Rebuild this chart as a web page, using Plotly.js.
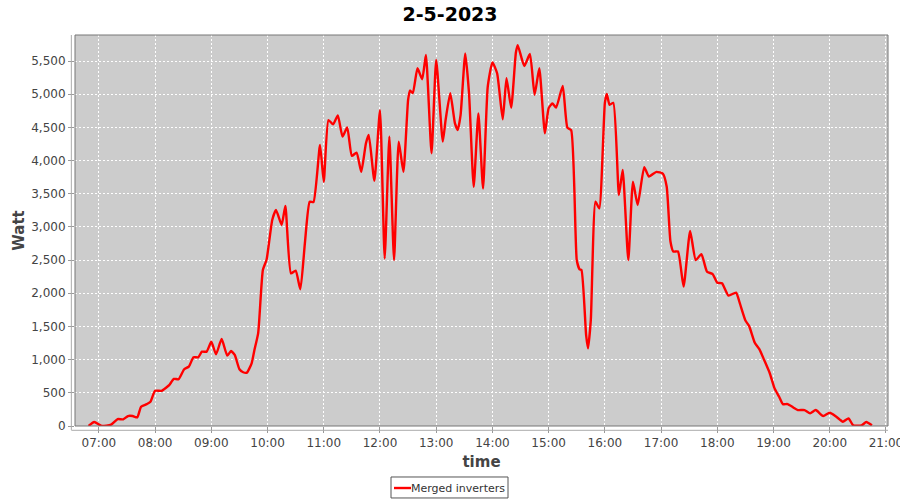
<!DOCTYPE html>
<html>
<head>
<meta charset="utf-8">
<script src="https://cdn.plot.ly/plotly-3.0.1.min.js"></script>
<style>html,body{margin:0;padding:0;background:#fff;}#chart{width:900px;height:500px;}</style>
</head>
<body>
<div id="chart"></div>
<script>
const chartTitle = "2-5-2023";
const day = "2023-05-02";
const seriesName = "Merged inverters";
const seriesColor = "#ff0000";
const times = ["06:49","06:55","07:03","07:13","07:20","07:26","07:31","07:36","07:41","07:45","07:51","07:55",
"08:00","08:07","08:12","08:15","08:20","08:25","08:31","08:36","08:41","08:46","08:50","08:55",
"09:00","09:05","09:11","09:17","09:21","09:25","09:30","09:34","09:38","09:43","09:46","09:50","09:55","09:59",
"10:05","10:09","10:15","10:19","10:25","10:30","10:35","10:40","10:45","10:49","10:56",
"11:00","11:05","11:10","11:15","11:20","11:25","11:30","11:35","11:40","11:45","11:48","11:54",
"12:00","12:05","12:10","12:15","12:20","12:25","12:30","12:32","12:35","12:40","12:45","12:49","12:55",
"13:00","13:07","13:10","13:15","13:20","13:23","13:26","13:31","13:35","13:40","13:45","13:50","13:55",
"14:00","14:05","14:11","14:15","14:20","14:25","14:27","14:34","14:40","14:45","14:50","14:56",
"15:00","15:04","15:08","15:15","15:20","15:24","15:30","15:33","15:35","15:40","15:42","15:45","15:50","15:54",
"16:00","16:02","16:05","16:09","16:15","16:19","16:25","16:30","16:35","16:42","16:47","16:55",
"17:02","17:06","17:10","17:13","17:18","17:24","17:31","17:37","17:43","17:49","17:55",
"18:00","18:05","18:12","18:20","18:24","18:30","18:34","18:40","18:45","18:50","18:56",
"19:01","19:06","19:10","19:15","19:21","19:26","19:33","19:39","19:45","19:53",
"20:00","20:07","20:14","20:20","20:25","20:34","20:39","20:45"];
const watts = [0,60,0,20,105,100,150,150,130,290,330,365,
530,530,580,615,710,705,855,895,1035,1035,1120,1120,
1270,1080,1310,1060,1130,1070,855,810,805,945,1145,1400,2350,2510,
3105,3255,3030,3315,2300,2340,2060,2780,3380,3375,4235,
3680,4610,4545,4680,4360,4500,4070,4120,3830,4260,4385,3695,
4760,2525,4360,2500,4285,3830,4915,5055,5015,5390,5225,5590,4110,
5515,4285,4610,5015,4560,4460,4685,5615,5015,3605,4710,3580,5115,
5480,5315,4620,5240,4795,5625,5740,5425,5605,4990,5390,4410,
4790,4860,4800,5125,4495,4460,2500,2360,2350,1370,1170,1600,3380,3280,
4870,5005,4840,4870,3480,3860,2500,3680,3330,3900,3760,3830,
3800,3605,2780,2630,2630,2100,2940,2500,2590,2325,2290,
2160,2150,1965,2010,1850,1590,1505,1255,1155,995,795,
570,440,330,330,280,240,240,190,240,150,
200,140,65,115,10,10,60,10];

const x = times.map(t => day + " " + t);
const font = "DejaVu Sans, Liberation Sans, sans-serif";

const trace = {
  x: x, y: watts, type: "scatter", mode: "lines", name: seriesName, showlegend: false,
  line: {color: seriesColor, width: 2.4, shape: "spline", smoothing: 0.5}
};

const layout = {
  width: 900, height: 500,
  paper_bgcolor: "#ffffff", plot_bgcolor: "#cccccc",
  margin: {l: 75, r: 12, t: 35, b: 74, autoexpand: false},
  title: {text: "<b>" + chartTitle + "</b>", x: 0.5, xanchor: "center", y: 0.972, yanchor: "middle",
          font: {family: font, size: 19, color: "#000"}},
  showlegend: false,
  xaxis: {
    type: "date", range: [day + " 06:34:30", day + " 21:02:10"],
    tickformat: "%H:%M", dtick: 3600000, tick0: day + " 00:00",
    showgrid: true, gridcolor: "#ffffff", griddash: "2px,2px", gridwidth: 1,
    ticks: "outside", ticklen: 6, tickcolor: "#999", tickwidth: 1,
    showline: false, zeroline: false, ticklabeloverflow: "allow",
    tickfont: {family: font, size: 12, color: "#444"},
    title: {text: "time", font: {family: font, size: 15, color: "#444", weight: "bold"}, standoff: 7}
  },
  yaxis: {
    range: [0, 5892], dtick: 500, tick0: 0, tickformat: ",d",
    showgrid: true, gridcolor: "#ffffff", griddash: "2px,2px", gridwidth: 1,
    ticks: "outside", ticklen: 6, tickcolor: "#999", tickwidth: 1,
    showline: false, zeroline: false,
    tickfont: {family: font, size: 12, color: "#444"},
    title: {text: "Watt", font: {family: font, size: 15, color: "#444", weight: "bold"}, standoff: 2}
  },
  annotations: [
    {text: seriesName, xref: "paper", yref: "paper", x: 0.4717, y: -0.1586,
     xanchor: "center", yanchor: "middle", showarrow: false,
     font: {family: font, size: 11, color: "#333"}}
  ],
  shapes: [
    {type: "rect", xref: "paper", yref: "paper", x0: 0, x1: 1, y0: 0, y1: 1,
     line: {color: "#777", width: 1}, fillcolor: "rgba(0,0,0,0)", layer: "above"},
    {type: "line", xref: "paper", yref: "paper", x0: -0.0045, x1: -0.0045, y0: -0.01, y1: 1,
     line: {color: "#aaa", width: 1}},
    {type: "line", xref: "paper", yref: "paper", x0: -0.0045, x1: 1, y0: -0.011, y1: -0.011,
     line: {color: "#aaa", width: 1}},
    {type: "rect", xref: "paper", yref: "paper", x0: 0.3887, x1: 0.5326, y0: -0.1841, y1: -0.1304,
     line: {color: "#555", width: 1}, fillcolor: "#ffffff"},
    {type: "line", xref: "paper", yref: "paper", x0: 0.3924, x1: 0.4133, y0: -0.1586, y1: -0.1586,
     line: {color: seriesColor, width: 2.4}}
  ]
};

Plotly.newPlot("chart", [trace], layout, {displayModeBar: false, staticPlot: true});
</script>
</body>
</html>
